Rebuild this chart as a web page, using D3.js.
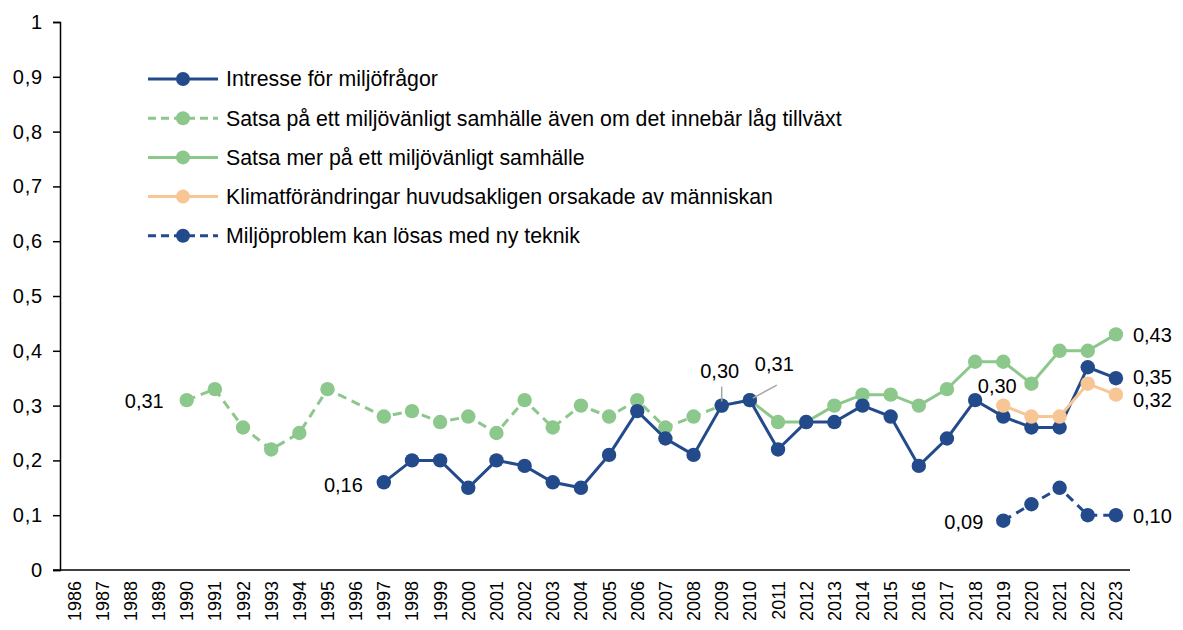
<!DOCTYPE html>
<html><head><meta charset="utf-8">
<script src="https://cdn.jsdelivr.net/npm/d3@7"></script>
<style>body{margin:0;background:#fff}svg{display:block;font-family:"Liberation Sans",Arial,sans-serif}</style>
</head><body><svg id="c" width="1183" height="630"></svg>
<script>
const years = d3.range(1986, 2024);
const yTicks = [0,0.1,0.2,0.3,0.4,0.5,0.6,0.7,0.8,0.9,1];
const intresseYears = d3.range(1997, 2024);
const intresse = [0.16,0.20,0.20,0.15,0.20,0.19,0.16,0.15,0.21,0.29,0.24,0.21,0.30,0.31,0.22,0.27,0.27,0.30,0.28,0.19,0.24,0.31,0.28,0.26,0.26,0.37,0.35];
const satsaLagYears = [1990,1991,1992,1993,1994,1995,1997,1998,1999,2000,2001,2002,2003,2004,2005,2006,2007,2008,2009,2010];
const satsaLag = [0.31,0.33,0.26,0.22,0.25,0.33,0.28,0.29,0.27,0.28,0.25,0.31,0.26,0.30,0.28,0.31,0.26,0.28,0.30,0.31];
const satsaMerYears = d3.range(2010, 2024);
const satsaMer = [0.31,0.27,0.27,0.30,0.32,0.32,0.30,0.33,0.38,0.38,0.34,0.40,0.40,0.43];
const klimatYears = [2019,2020,2021,2022,2023];
const klimat = [0.30,0.28,0.28,0.34,0.32];
const teknikYears = [2019,2020,2021,2022,2023];
const teknik = [0.09,0.12,0.15,0.10,0.10];
const seriesNames = ["Intresse för miljöfrågor","Satsa på ett miljövänligt samhälle även om det innebär låg tillväxt","Satsa mer på ett miljövänligt samhälle","Klimatförändringar huvudsakligen orsakade av människan","Miljöproblem kan lösas med ny teknik"];

const BLUE="#234b8c", GREEN="#8cc78c", ORANGE="#f8c595";
const series = [
  {name:seriesNames[1], xs:satsaLagYears, ys:satsaLag, color:GREEN, dash:"9,6"},
  {name:seriesNames[2], xs:satsaMerYears, ys:satsaMer, color:GREEN, dash:null},
  {name:seriesNames[0], xs:intresseYears, ys:intresse, color:BLUE, dash:null},
  {name:seriesNames[3], xs:klimatYears, ys:klimat, color:ORANGE, dash:null},
  {name:seriesNames[4], xs:teknikYears, ys:teknik, color:BLUE, dash:"9,6"}
];
const svg = d3.select("#c");
const L=60, R=1130, T=22, B=570;
const x = d3.scaleBand().domain(years).range([L,R]);
const cx = v => x(v)+x.bandwidth()/2;
const y = d3.scaleLinear().domain([0,1]).range([B,T]);
const FONT = "Liberation Sans, Arial, sans-serif";

// axes
const ya = svg.append("g").attr("transform",`translate(${L},0)`)
  .call(d3.axisLeft(y).tickValues(yTicks).tickSize(7).tickFormat(d=>d3.format(".1f")(d).replace(".",",").replace(/^0,0$/,"0").replace(/^1,0$/,"1")));
ya.select(".domain").attr("stroke","#000").attr("stroke-width",1.5);
ya.selectAll(".tick line").attr("stroke","#000").attr("stroke-width",1.5);
ya.selectAll("text").attr("font-size",20).attr("fill","#000").attr("font-family",FONT).attr("x",-17).attr("letter-spacing",0.8);
const xa = svg.append("g").attr("transform",`translate(0,${B})`)
  .call(d3.axisBottom(x).tickSize(0).tickSizeOuter(0));
xa.select(".domain").attr("stroke","#000").attr("stroke-width",1.5).attr("d",`M${L-7},0H${R}`);
xa.selectAll("text").attr("font-size",18).attr("fill","#000").attr("font-family",FONT)
  .attr("transform","rotate(-90)").attr("text-anchor","end").attr("x",-11).attr("y",0).attr("dy","0.36em");

const line = d3.line().x(d=>cx(d[0])).y(d=>y(d[1]));
series.forEach(s=>{
  const pts = s.xs.map((v,i)=>[v,s.ys[i]]);
  svg.append("path").datum(pts).attr("d",line).attr("fill","none").attr("stroke",s.color)
    .attr("stroke-width",3).attr("stroke-dasharray",s.dash);
  svg.selectAll(null).data(pts).enter().append("circle").attr("cx",d=>cx(d[0])).attr("cy",d=>y(d[1]))
    .attr("r",7.2).attr("fill",s.color);
});

// legend
const legend = [
  {name:seriesNames[0], color:BLUE, dash:null},
  {name:seriesNames[1], color:GREEN, dash:"8,5"},
  {name:seriesNames[2], color:GREEN, dash:null},
  {name:seriesNames[3], color:ORANGE, dash:null},
  {name:seriesNames[4], color:BLUE, dash:"8,5"}
];
legend.forEach((l,i)=>{
  const yy = 79 + i*39.2;
  svg.append("line").attr("x1",148).attr("x2",218).attr("y1",yy).attr("y2",yy).attr("stroke",l.color)
    .attr("stroke-width",3).attr("stroke-dasharray",l.dash);
  svg.append("circle").attr("cx",183).attr("cy",yy).attr("r",7).attr("fill",l.color);
  svg.append("text").attr("x",226).attr("y",yy).attr("dy","0.35em").attr("font-size",21.3).attr("fill","#000").text(l.name);
});

// data labels
const fmt = v => d3.format(".2f")(v).replace(".",",");
const lab = (xv, val, dx, dy, anchor) => svg.append("text").attr("x",cx(xv)+dx).attr("y",y(val)+dy).attr("dy","0.35em")
  .attr("text-anchor",anchor).attr("font-size",20).attr("fill","#000").text(fmt(val));
lab(1990, satsaLag[0], -23, 1, "end");
lab(1997, intresse[0], -21, 3, "end");
lab(2023, satsaMer[satsaMer.length-1], 17, 1, "start");
lab(2023, intresse[intresse.length-1], 17, -1, "start");
lab(2023, klimat[klimat.length-1], 17, 5, "start");
lab(2023, teknik[teknik.length-1], 17, 1, "start");
lab(2019, teknik[0], -20, 1, "end");
lab(2019, klimat[0], -6, -20, "middle");
lab(2009, satsaLag[18], -2, -35, "middle");
lab(2010, satsaLag[19], 5, -36, "start");
// leader lines
svg.append("line").attr("x1",cx(2009)).attr("x2",cx(2009)).attr("y1",y(satsaLag[18])-19).attr("y2",y(satsaLag[18])-4).attr("stroke","#a6a6a6").attr("stroke-width",1.5);
svg.append("line").attr("x1",cx(2010)+3).attr("x2",cx(2010)+27).attr("y1",y(satsaLag[19])-2).attr("y2",y(satsaLag[19])-15).attr("stroke","#a6a6a6").attr("stroke-width",1.5);
</script></body></html>
